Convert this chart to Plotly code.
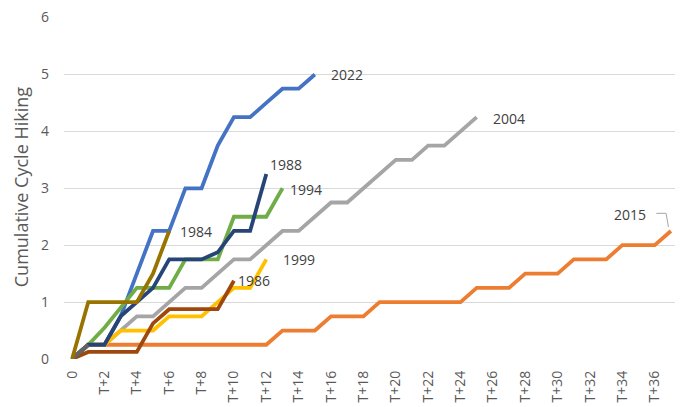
import plotly.graph_objects as go

categories = ["0"] + [f"T+{i}" for i in range(1, 38)]
tick_labels = categories[::2]

y2022 = [0, 0.25, 0.25, 0.75, 1.5, 2.25, 2.25, 3.0, 3.0, 3.75, 4.25, 4.25, 4.5, 4.75, 4.75, 5.0]
y2015 = [0, 0.25, 0.25, 0.25, 0.25, 0.25, 0.25, 0.25, 0.25, 0.25, 0.25, 0.25, 0.25, 0.5, 0.5, 0.5,
         0.75, 0.75, 0.75, 1.0, 1.0, 1.0, 1.0, 1.0, 1.0, 1.25, 1.25, 1.25, 1.5, 1.5, 1.5, 1.75, 1.75,
         1.75, 2.0, 2.0, 2.0, 2.25]
y2004 = [0, 0.25, 0.25, 0.5, 0.75, 0.75, 1.0, 1.25, 1.25, 1.5, 1.75, 1.75, 2.0, 2.25, 2.25, 2.5,
         2.75, 2.75, 3.0, 3.25, 3.5, 3.5, 3.75, 3.75, 4.0, 4.25]
y1999 = [0, 0.25, 0.25, 0.5, 0.5, 0.5, 0.75, 0.75, 0.75, 1.0, 1.25, 1.25, 1.75]
y1994 = [0, 0.25, 0.55, 0.9, 1.25, 1.25, 1.25, 1.75, 1.75, 1.75, 2.5, 2.5, 2.5, 3.0]
y1988 = [0, 0.25, 0.25, 0.75, 1.0, 1.25, 1.75, 1.75, 1.75, 1.875, 2.25, 2.25, 3.25]
y1986 = [0, 0.125, 0.125, 0.125, 0.125, 0.625, 0.875, 0.875, 0.875, 0.875, 1.375]
y_other = [0, 0.25]
y1984 = [0, 1.0, 1.0, 1.0, 1.0, 1.5, 2.25]

series = [
    ("2022", y2022, "#4472C4"),
    ("2015", y2015, "#ED7D31"),
    ("2004", y2004, "#A5A5A5"),
    ("1999", y1999, "#FFC000"),
    ("1994", y1994, "#70AD47"),
    ("1988", y1988, "#264478"),
    ("1986", y1986, "#9E480E"),
    ("", y_other, "#636363"),
    ("1984", y1984, "#997300"),
]

# label offsets (px) relative to each series' last point
label_offsets = {
    "2022": (14, 0), "2004": (14, -1), "1988": (2, 10), "1994": (6, -1),
    "1984": (9, -1), "1999": (15, 0), "1986": (2, 0),
}

fig = go.Figure()
for name, ys, color in series:
    fig.add_trace(go.Scatter(
        x=categories[:len(ys)], y=ys, mode="lines", name=name,
        line=dict(color=color, width=3.8), showlegend=False, hoverinfo="skip"))

font_family = "Open Sans"
text_color = "#404040"
annotations = []
for name, ys, color in series:
    if name in label_offsets:
        dx, dy = label_offsets[name]
        annotations.append(dict(
            x=len(ys) - 1, y=ys[-1], xref="x", yref="y", text=name, showarrow=False,
            xanchor="left", yanchor="middle", xshift=dx, yshift=dy,
            font=dict(family=font_family, size=14, color=text_color)))

# 2015 label with leader line
annotations.append(dict(
    x=len(y2015) - 1, y=y2015[-1], xref="x", yref="y", text="2015", showarrow=False,
    xanchor="right", yanchor="middle", xshift=-23, yshift=16,
    font=dict(family=font_family, size=14, color=text_color)))

annotations.append(dict(
    x=-0.07, y=0.505, xref="paper", yref="paper", text="Cumulative Cycle Hiking",
    textangle=-90, showarrow=False, xanchor="center", yanchor="middle",
    font=dict(family=font_family, size=18, color="#595959")))

last = len(y2015) - 1
shapes = [
    dict(type="line", xref="x", yref="y", x0=last - 0.9, x1=last - 0.3, y0=2.56, y1=2.56,
         line=dict(color="#A5A5A5", width=1)),
    dict(type="line", xref="x", yref="y", x0=last - 0.3, x1=last - 0.15, y0=2.56, y1=2.32,
         line=dict(color="#A5A5A5", width=1)),
]

fig.update_layout(
    width=675, height=399,
    margin=dict(l=56, r=4, t=9, b=48),
    paper_bgcolor="white", plot_bgcolor="white",
    annotations=annotations, shapes=shapes,
    font=dict(family=font_family, color="#595959"),
    xaxis=dict(type="category", categoryorder="array", categoryarray=categories,
               range=[-0.5, len(categories) - 0.5],
               tickmode="array", tickvals=tick_labels, ticktext=tick_labels,
               tickangle=-90, tickfont=dict(size=14, color="#595959"),
               ticklabelstandoff=8, ticklabeloverflow="allow",
               showgrid=False, showline=False, zeroline=False, ticks="", automargin=False),
    yaxis=dict(range=[0, 6.01], tickmode="array", tickvals=[0, 1, 2, 3, 4, 5, 6],
               tickfont=dict(size=14, color="#595959"), ticklabeloverflow="allow",
               showgrid=True, gridcolor="#D9D9D9", gridwidth=1, zeroline=False,
               showline=False, ticks="", ticklabelstandoff=14, automargin=False),
)

fig.write_html("out.html")
